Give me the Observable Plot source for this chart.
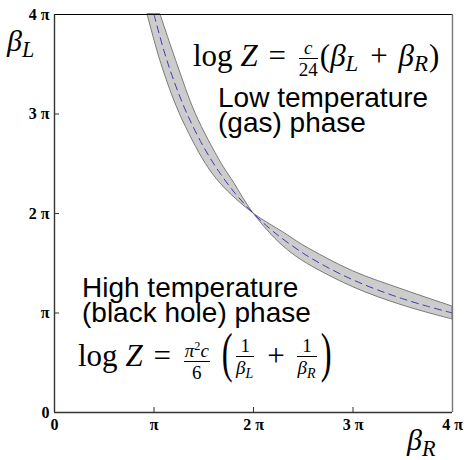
<!DOCTYPE html>
<html><head><meta charset="utf-8">
<script src="https://cdn.jsdelivr.net/npm/d3@7"></script>
<script src="https://cdn.jsdelivr.net/npm/@observablehq/plot@0.6"></script>
<style>
body{margin:0;background:#fff;}
#wrap{position:relative;width:464px;height:460px;overflow:hidden;}
.t{position:absolute;white-space:nowrap;color:#000;}
.sans{font-family:"Liberation Sans",Arial,sans-serif;font-size:28px;line-height:25px;}
.math{font-family:"Liberation Serif","Times New Roman",serif;font-size:31px;line-height:31px;}
.frac{display:inline-flex;flex-direction:column;vertical-align:middle;font-size:19px;line-height:19px;text-align:center;margin:0 2px;}
.frac>span:first-child{border-bottom:1px solid #000;padding:0 1px 1px 1px;}
.frac>span:last-child{padding-top:1px;}
.big{display:inline-block;transform:scale(1.05,1.75);transform-origin:50% 62%;margin:0 2px;}
.op{display:inline-block;margin:0 0.1em;}
i{font-style:italic;}
.sb{font-size:0.74em;vertical-align:-0.25em;font-style:italic;margin-right:1px;}
.ax{font-family:"Liberation Serif","Times New Roman",serif;font-size:30px;line-height:30px;}
</style></head>
<body><div id="wrap"></div>
<script>
// axis ticks (multiples of pi)
const tickValues = [0, 1, 2, 3, 4];
const tickLabels = ["0", "π", "2 π", "3 π", "4 π"];
const domain = [0, 4];

// dashed curve beta_L * beta_R = (2π)^2 (units of π)
const curveBetaR = [1, 1.1, 1.2, 1.333, 1.5, 1.667, 1.818, 2, 2.2, 2.5, 2.75, 3, 3.25, 3.5, 3.75, 4];
const curveBetaL = [4, 3.636, 3.333, 3, 2.667, 2.4, 2.2, 2, 1.818, 1.6, 1.455, 1.333, 1.231, 1.143, 1.067, 1];

// grey band, steep branch: beta_L levels and the band's left/right beta_R edges
const steepBetaL = [4, 3.5, 3, 2.5, 2.3, 2.15];
const steepInnerR = [0.935, 1.075, 1.26, 1.52, 1.67, 1.82];
const steepOuterR = [1.065, 1.235, 1.42, 1.68, 1.81, 1.90];
// crossing point
const crossR = 2, crossL = 2;
// grey band, flat branch: beta_R positions and lower/upper beta_L edges
const flatBetaR = [2.15, 2.3, 2.5, 3, 3.5, 4];
const flatInnerL = [1.82, 1.67, 1.52, 1.26, 1.075, 0.935];
const flatOuterL = [1.90, 1.81, 1.68, 1.42, 1.235, 1.065];

// build band rows: edge A and edge B
const band = [];
steepBetaL.forEach((l, i) => band.push({ax: steepOuterR[i], ay: l, bx: steepInnerR[i], by: l}));
band.push({ax: crossR, ay: crossL, bx: crossR, by: crossL});
flatBetaR.forEach((r, i) => band.push({ax: r, ay: flatInnerL[i], bx: r, by: flatOuterL[i]}));

const curve = curveBetaR.map((r, i) => ({r, l: curveBetaL[i]}));

const W = 464, H = 460, mL = 54, mR = 12, mT = 14, mB = 48;
const plotW = W - mL - mR, plotH = H - mT - mB;

const chart = Plot.plot({
  width: W, height: H,
  marginLeft: mL, marginRight: mR, marginTop: mT, marginBottom: mB,
  style: {fontFamily: "Liberation Serif, serif", fontSize: "16px", fontWeight: "bold", background: "#fff", overflow: "visible"},
  x: {domain, ticks: tickValues},
  y: {domain, ticks: tickValues},
  marks: [
    Plot.area(band, {x1: "ax", y1: "ay", x2: "bx", y2: "by", fill: "#cccccc", stroke: "#6e6e6e", strokeWidth: 0.9, curve: "catmull-rom"}),
    Plot.line(curve, {x: "r", y: "l", stroke: "#3b3bb0", strokeWidth: 1, strokeDasharray: "7,5", curve: "catmull-rom"}),
    Plot.ruleY([domain[1]], {stroke: "#000", strokeWidth: 1.2}),
    Plot.ruleX([domain[1]], {stroke: "#777", strokeWidth: 1.4}),
    Plot.ruleX([domain[0]], {stroke: "#333", strokeWidth: 1.4}),
    Plot.ruleY([domain[0]], {stroke: "#333", strokeWidth: 1.4}),
    Plot.tickX(tickValues.slice(1, 4), {x: d => d, stroke: "#333", insetTop: plotH - 5}),
    Plot.tickY(tickValues.slice(1, 4), {y: d => d, stroke: "#333", insetRight: plotW - 5}),
    Plot.axisX({ticks: tickValues, tickSize: 0, tickPadding: 6, tickFormat: (d, i) => tickLabels[i], label: null}),
    Plot.axisY({ticks: tickValues, tickSize: 0, tickPadding: 5, tickFormat: (d, i) => tickLabels[i], label: null})
  ]
});
const wrap = document.getElementById("wrap");
wrap.appendChild(chart);

const texts = [
  {cls: "ax", left: 7, top: 26, html: '<i>β</i><span class="sb">L</span>'},
  {cls: "ax", left: 407, top: 425, html: '<i>β</i><span class="sb">R</span>'},
  {cls: "math", left: 193, top: 38, html: 'log <i>Z</i> <span class="op">=</span> <span class="frac"><span><i>c</i></span><span>24</span></span>(<i>β</i><span class="sb">L</span> <span class="op">+</span> <i>β</i><span class="sb">R</span>)'},
  {cls: "sans", left: 218, top: 85, html: 'Low temperature<br>(gas) phase'},
  {cls: "sans", left: 82, top: 275, html: 'High temperature<br>(black hole) phase'},
  {cls: "math", left: 78, top: 336, html: 'log <i>Z</i> <span class="op">=</span> <span class="frac"><span><i>π</i><sup style="font-size:0.65em">2</sup><i>c</i></span><span>6</span></span> <span class="big">(</span><span class="frac"><span>1</span><span><i>β</i><span class="sb">L</span></span></span> <span class="op">+</span> <span class="frac"><span>1</span><span><i>β</i><span class="sb">R</span></span></span><span class="big">)</span>'}
];
texts.forEach(t => {
  const d = document.createElement("div");
  d.className = "t " + t.cls;
  d.style.left = t.left + "px";
  d.style.top = t.top + "px";
  d.innerHTML = t.html;
  wrap.appendChild(d);
});
</script></body></html>
